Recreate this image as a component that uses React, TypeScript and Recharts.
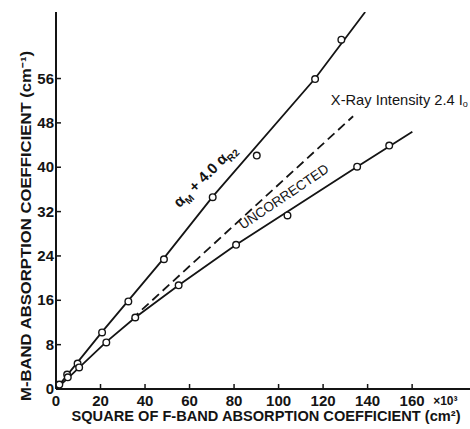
import React from 'react';
import { ComposedChart, Line, Scatter, XAxis, YAxis, ReferenceDot } from 'recharts';

// Measured points: alpha_M + 4.0 alpha_R2 (corrected)
const upperX = [1.5, 5.0, 9.7, 20.7, 32.5, 48.5, 70.4, 90.2, 116.4, 128.2];
const upperY = [0.8, 2.6, 4.6, 10.2, 15.8, 23.4, 34.6, 42.1, 55.9, 63.0];
// Measured points: uncorrected
const lowerX = [5.3, 10.4, 22.6, 35.6, 55.1, 80.9, 104.0, 135.3, 149.7];
const lowerY = [2.1, 3.9, 8.4, 12.9, 18.7, 26.0, 31.3, 40.1, 43.9];
// Drawn curves
const upperCurveX = [0, 20.7, 48.5, 70.4, 116.4, 138.9];
const upperCurveY = [0, 10.3, 23.6, 34.7, 56.0, 68.0];
const lowerCurveX = [0, 5.5, 22.6, 35.6, 55.1, 80.9, 135.3, 160.1];
const lowerCurveY = [0, 2.0, 8.5, 12.9, 18.7, 26.0, 40.1, 46.4];
const dashedX = [34, 133.5];
const dashedY = [12.6, 49.2];

const xTicks = [0, 20, 40, 60, 80, 100, 120, 140, 160];
const yTicks = [0, 8, 16, 24, 32, 40, 48, 56];

const zip = (xs: number[], ys: number[]) => xs.map((x, i) => ({ x, y: ys[i] }));
const upperPts = zip(upperX, upperY);
const lowerPts = zip(lowerX, lowerY);
const upperCurve = zip(upperCurveX, upperCurveY);
const lowerCurve = zip(lowerCurveX, lowerCurveY);
const dashed = zip(dashedX, dashedY);

const INK = '#141414';
const FONT = '"Liberation Sans", Arial, sans-serif';

const BottomTick = (p: any) => {
  const { x, y, payload } = p;
  return (
    <g>
      <line x1={x} y1={y} x2={x} y2={y - 5} stroke={INK} strokeWidth={1.5} />
      <text x={x} y={y + 17} textAnchor="middle" fontFamily={FONT} fontWeight="bold" fontSize={15} fill={INK}>
        {payload.value}
      </text>
      {payload.value === 160 ? (
        <text x={x + 21} y={y + 16} textAnchor="start" fontFamily={FONT} fontWeight="bold" fontSize={12} fill={INK}>
          ×10³
        </text>
      ) : null}
    </g>
  );
};

const TopTick = (p: any) => {
  const { x, y } = p;
  return <line x1={x} y1={y} x2={x} y2={y + 5} stroke={INK} strokeWidth={1.5} />;
};

const LeftTick = (p: any) => {
  const { x, y, payload } = p;
  return (
    <g>
      <line x1={x} y1={y} x2={x + 5} y2={y} stroke={INK} strokeWidth={1.5} />
      <text x={x - 2} y={y + 5} textAnchor="end" fontFamily={FONT} fontWeight="bold" fontSize={15} fill={INK}>
        {payload.value}
      </text>
    </g>
  );
};

const circle = (p: any) => (
  <circle cx={p.cx} cy={p.cy} r={3.3} fill="#fff" stroke={INK} strokeWidth={1.4} />
);

const UpperLabel = (p: any) => (
  <text
    x={p.cx}
    y={p.cy}
    transform={`rotate(-45 ${p.cx} ${p.cy})`}
    textAnchor="middle"
    fontFamily={FONT}
    fontWeight="bold"
    fontSize={15}
    fill={INK}
  >
    <tspan>α</tspan>
    <tspan dy={4} fontSize={10}>M</tspan>
    <tspan dy={-4}> + 4.0 α</tspan>
    <tspan dy={4} fontSize={10}>R2</tspan>
  </text>
);

const UncorrLabel = (p: any) => (
  <text
    x={p.cx}
    y={p.cy}
    transform={`rotate(-34 ${p.cx} ${p.cy})`}
    textAnchor="middle"
    fontFamily={FONT}
    fontSize={13.5}
    fill={INK}
  >
    UNCORRECTED
  </text>
);

const XrayLabel = (p: any) => (
  <text
    x={p.cx}
    y={p.cy}
    textAnchor="start"
    fontFamily={FONT}
    fontSize={14.5}
    fill={INK}
    textLength={137}
    lengthAdjust="spacingAndGlyphs"
  >
    X-Ray Intensity 2.4 I<tspan fontSize={9} dy={2}>o</tspan>
  </text>
);

export default function App() {
  return (
    <div style={{ position: 'absolute', left: 0, top: 0, width: 470, height: 429, background: '#fff' }}>
      <ComposedChart width={470} height={429} margin={{ top: 12, right: 0, bottom: 0, left: 0 }}>
        <XAxis
          dataKey="x"
          type="number"
          domain={[0, 186]}
          ticks={xTicks}
          allowDataOverflow
          height={40}
          tickSize={0}
          tickMargin={0}
          tick={<BottomTick />}
          axisLine={{ stroke: INK, strokeWidth: 2 }}
          tickLine={false}
          interval={0}
        />
        <XAxis
          xAxisId="top"
          orientation="top"
          dataKey="x"
          type="number"
          domain={[0, 186]}
          ticks={xTicks}
          allowDataOverflow
          height={0}
          tickSize={0}
          tickMargin={0}
          tick={<TopTick />}
          axisLine={{ stroke: INK, strokeWidth: 2 }}
          tickLine={false}
          interval={0}
        />
        <YAxis
          dataKey="y"
          type="number"
          domain={[0, 68]}
          ticks={yTicks}
          allowDataOverflow
          width={56}
          tickSize={0}
          tickMargin={0}
          tick={<LeftTick />}
          axisLine={{ stroke: INK, strokeWidth: 2 }}
          tickLine={false}
          interval={0}
        />
        <Line data={upperCurve} dataKey="y" type="linear" stroke={INK} strokeWidth={1.8} dot={false} isAnimationActive={false} />
        <Line data={lowerCurve} dataKey="y" type="linear" stroke={INK} strokeWidth={1.8} dot={false} isAnimationActive={false} />
        <Line data={dashed} dataKey="y" type="linear" stroke={INK} strokeWidth={1.8} strokeDasharray="9 5" dot={false} isAnimationActive={false} />
        <Scatter data={upperPts} dataKey="y" shape={circle} isAnimationActive={false} />
        <Scatter data={lowerPts} dataKey="y" shape={circle} isAnimationActive={false} />
        <ReferenceDot x={68.5} y={37.8} r={0} shape={UpperLabel} ifOverflow="visible" />
        <ReferenceDot x={103.5} y={34} r={0} shape={UncorrLabel} ifOverflow="visible" />
        <ReferenceDot x={123.5} y={51.3} r={0} shape={XrayLabel} ifOverflow="visible" />
      </ComposedChart>
      <svg width={470} height={429} style={{ position: 'absolute', left: 0, top: 0, pointerEvents: 'none' }}>
        <text
          x={0}
          y={0}
          transform="translate(31 226) rotate(-90)"
          textAnchor="middle"
          fontFamily={FONT}
          fontWeight="bold"
          fontSize={14}
          fill={INK}
          textLength={350}
          lengthAdjust="spacingAndGlyphs"
        >
          M-BAND ABSORPTION COEFFICIENT (cm⁻¹)
        </text>
        <text
          x={266}
          y={421}
          textAnchor="middle"
          fontFamily={FONT}
          fontWeight="bold"
          fontSize={14}
          fill={INK}
          textLength={389}
          lengthAdjust="spacingAndGlyphs"
        >
          SQUARE OF F-BAND ABSORPTION COEFFICIENT (cm²)
        </text>
      </svg>
    </div>
  );
}
